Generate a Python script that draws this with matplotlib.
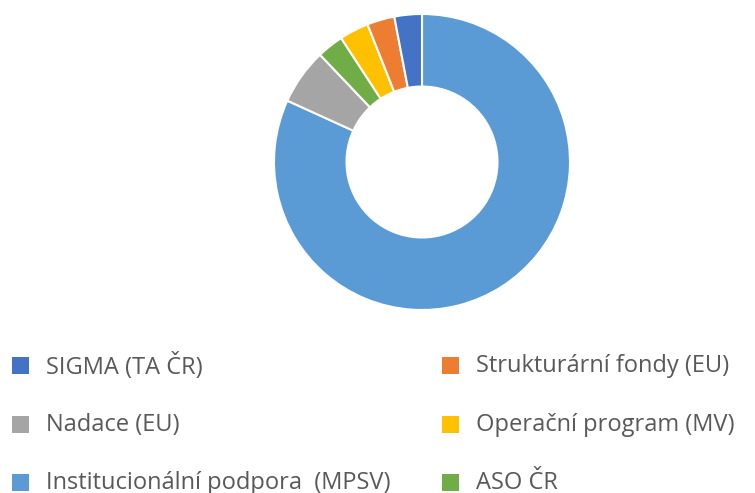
import matplotlib
matplotlib.use("Agg")
import matplotlib.pyplot as plt
from matplotlib.patches import Rectangle

# wedge order as drawn clockwise from 12 o'clock
labels = ["Institucionální podpora  (MPSV)", "Nadace (EU)", "ASO ČR",
          "Operační program (MV)", "Strukturární fondy (EU)", "SIGMA (TA ČR)"]
shares = [81.8, 6.1, 2.9, 3.2, 3.0, 3.0]
colors = ["#5B9BD5", "#A5A5A5", "#70AD47", "#FFC000", "#ED7D31", "#4472C4"]

# legend order (row by row, two columns)
legend_order = ["SIGMA (TA ČR)", "Strukturární fondy (EU)", "Nadace (EU)",
                "Operační program (MV)", "Institucionální podpora  (MPSV)", "ASO ČR"]

W, H = 755, 493
fig = plt.figure(figsize=(W / 100, H / 100), dpi=100)

ax = fig.add_axes([274 / W, 183 / H, 296 / W, 296 / H])
ax.pie(shares, colors=colors, startangle=90, counterclock=False, radius=1,
       wedgeprops=dict(width=0.49, edgecolor="white", linewidth=1.5))
ax.set_xlim(-1, 1)
ax.set_ylim(-1, 1)
ax.set_aspect("equal")
ax.axis("off")

col_of = dict(zip(labels, colors))
col_x = [12, 442]
row_y = [365, 424, 482]
sq = 17
for i, name in enumerate(legend_order):
    x = col_x[i % 2]
    y = row_y[i // 2]
    fig.patches.append(Rectangle((x / W, (H - y - sq / 2) / H), sq / W, sq / H,
                                 transform=fig.transFigure, facecolor=col_of[name],
                                 edgecolor="none"))
    fig.text((x + 34) / W, (H - y - 1) / H, name, fontsize=17, family="Open Sans",
             color="#595959", va="center", ha="left")

fig.savefig("out.png", dpi=100)
